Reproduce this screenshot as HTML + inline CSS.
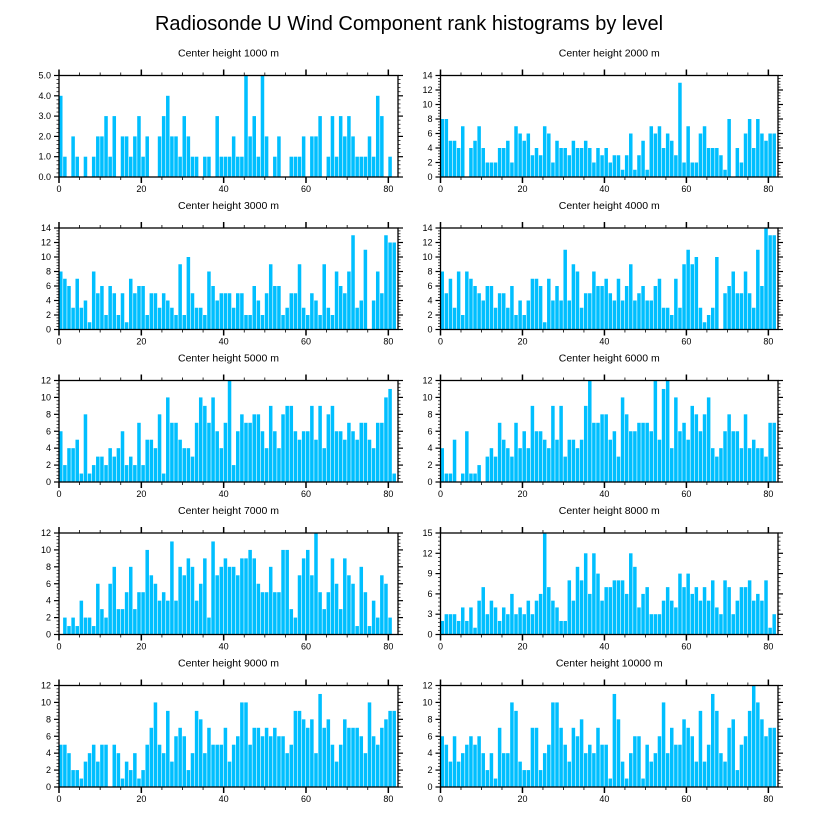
<!DOCTYPE html>
<html><head><meta charset="utf-8">
<style>
html,body{margin:0;padding:0;background:#fff;}
svg{display:block;font-family:"Liberation Sans",Arial,sans-serif;}
</style></head>
<body>
<svg id="chart" width="818" height="824" viewBox="0 0 818 824" xmlns="http://www.w3.org/2000/svg">
<text x="409" y="30" text-anchor="middle" font-size="20">Radiosonde U Wind Component rank histograms by level</text>
</svg>
<script>
const levels = ["1000","2000","3000","4000","5000","6000","7000","8000","9000","10000"];
const counts1000 = [4,1,0,2,1,0,1,0,1,2,2,3,1,3,0,2,2,1,2,3,1,2,0,0,2,3,4,2,2,1,3,2,1,1,0,1,1,0,3,1,1,1,2,1,1,5,2,3,1,5,2,0,1,2,0,0,1,1,1,2,0,2,2,3,0,1,3,1,3,2,3,2,1,1,1,2,1,4,3,0,1,0];
const counts2000 = [8,8,5,5,4,7,0,4,5,7,4,2,2,2,4,4,5,2,7,6,5,6,3,4,3,7,6,2,5,4,4,3,5,4,4,5,4,2,4,3,4,2,3,3,1,3,6,1,3,5,1,7,6,7,4,6,5,3,13,2,7,2,2,6,7,4,4,4,3,1,8,0,4,2,6,8,4,8,6,5,6,6];
const counts3000 = [8,7,6,3,7,3,4,1,8,5,6,2,6,5,2,5,1,7,5,6,6,2,5,5,3,5,4,3,2,9,2,10,5,3,3,2,8,6,4,5,5,5,3,5,5,2,2,6,4,2,5,9,6,6,2,3,5,5,9,3,2,5,4,2,9,3,2,8,6,5,8,13,3,4,11,0,4,8,5,13,12,12];
const counts4000 = [8,5,7,3,8,2,8,7,6,5,4,6,6,3,5,5,3,6,2,4,2,4,7,7,6,1,7,4,6,4,11,4,9,8,3,5,5,8,6,6,7,5,4,7,4,6,9,4,5,6,4,4,6,7,3,3,2,7,3,9,11,9,10,3,1,2,3,10,0,5,6,8,5,5,8,5,3,11,6,14,13,13];
const counts5000 = [6,2,4,4,5,1,8,1,2,3,3,2,4,3,4,6,2,3,2,7,2,5,5,4,8,1,10,7,7,5,4,4,3,7,10,9,7,10,6,4,7,12,2,6,8,7,7,8,8,6,4,9,6,4,8,9,9,6,5,6,6,9,5,9,4,8,9,6,6,5,7,6,5,7,7,5,4,7,7,10,11,1];
const counts6000 = [4,1,1,5,0,1,6,1,1,2,0,3,4,3,7,5,4,3,7,4,6,4,9,6,6,5,4,9,5,9,3,5,5,4,5,9,12,7,7,8,8,5,6,3,10,8,6,6,7,7,7,6,12,5,11,12,4,10,6,7,5,9,8,6,8,10,4,3,4,6,8,6,6,4,8,4,5,4,4,3,7,7];
const counts7000 = [0,2,1,2,1,4,2,2,1,6,3,2,6,8,3,3,5,8,3,5,5,10,7,6,4,5,4,11,4,8,7,9,8,4,6,9,2,11,7,8,9,8,8,7,9,9,10,9,6,5,5,8,5,5,10,10,3,2,7,9,10,7,12,5,3,5,9,6,3,9,7,6,1,8,5,1,4,2,7,6,2,0];
const counts8000 = [2,3,3,3,2,4,2,4,1,5,7,3,5,4,2,4,3,6,3,4,3,5,3,5,6,15,7,5,4,2,2,8,5,10,8,12,6,12,9,5,7,7,8,8,8,6,12,10,4,6,7,3,3,3,5,7,5,4,9,7,9,6,7,5,7,5,8,4,3,8,7,3,5,7,7,8,5,6,5,8,1,3];
const counts9000 = [5,5,4,2,2,1,3,4,5,3,5,5,0,5,4,1,3,2,4,1,2,5,7,10,5,4,9,3,6,7,6,2,4,9,8,4,7,5,5,5,7,3,5,6,10,10,5,7,7,6,7,6,7,6,6,4,5,9,9,8,7,8,4,11,7,8,5,3,5,8,7,7,7,6,4,10,6,5,7,8,9,9];
const counts10000 = [6,5,3,6,3,4,5,6,5,6,4,2,4,1,7,4,4,10,9,3,2,2,7,7,2,4,5,10,10,7,5,3,7,6,8,4,5,4,7,5,5,1,11,8,3,1,4,6,6,1,5,3,4,6,10,4,7,5,5,8,7,6,3,9,3,5,11,9,4,3,7,8,2,5,6,9,12,10,8,6,7,7];
const yMaxes = [5,14,14,14,12,12,12,15,12,12];
const yStepsMajor = [1,2,2,2,2,2,2,3,2,2];
const xTickLabels = [0,20,40,60,80];
const allCounts = [counts1000,counts2000,counts3000,counts4000,counts5000,counts6000,counts7000,counts8000,counts9000,counts10000];

const NS="http://www.w3.org/2000/svg";
const svg=document.getElementById('chart');
function mk(tag,attrs,parent){const e=document.createElementNS(NS,tag);for(const k in attrs)e.setAttribute(k,attrs[k]);(parent||svg).appendChild(e);return e;}
const XMAX=82.35;
const colsL=[59,440.5], colsW=[339,337.5];
const rowTops=[75.5,228,380.5,533,685.5], PH=101.5;

allCounts.forEach((data,p)=>{
  const col=p%2,row=Math.floor(p/2);
  const L=colsL[col],W=colsW[col],T=rowTops[row],B=T+PH;
  const ymax=yMaxes[p],step=yStepsMajor[p];
  const xs=v=>L+v/XMAX*W;
  const ys=v=>B-v/ymax*PH;
  const g=mk('g',{});
  
  
  const t=mk('text',{x:L+W/2,y:T-19,'text-anchor':'middle','font-size':'10.5'},g);
  
  
  t.textContent='Center height '+levels[p]+' m';
  data.forEach((v,i)=>{
    if(v<=0)return;
    const r=mk('rect',{x:xs(i),y:ys(v),width:xs(i+1)-xs(i)-0.6,height:B-ys(v),fill:'#00bfff'},g);
    
    
  });
  const fr=mk('rect',{x:L,y:T,width:W,height:PH,fill:'none',stroke:'#000','stroke-width':'1.3'},g);
  
  
  // x ticks
  for(let v=0;v<=XMAX;v+=5){
    const maj=v%20===0, len=maj?6:3, x=xs(v);
    mk('line',{x1:x,x2:x,y1:B,y2:B+len,stroke:'#000','stroke-width':maj?1.5:0.8},g);
    mk('line',{x1:x,x2:x,y1:T,y2:T-len,stroke:'#000','stroke-width':maj?1.5:0.8},g);
  }
  xTickLabels.forEach(v=>{
    const tl=mk('text',{x:xs(v),y:B+15,'text-anchor':'middle','font-size':'9'},g);
    
    
    tl.textContent=v;
  });
  // y ticks
  const minor=step/5;
  for(let k=0;k*minor<=ymax+1e-9;k++){
    const v=k*minor, maj=k%5===0, len=maj?5:2.5, y=ys(v);
    mk('line',{x1:L,x2:L-len,y1:y,y2:y,stroke:'#000','stroke-width':maj?1.2:0.7},g);
    mk('line',{x1:L+W,x2:L+W+len,y1:y,y2:y,stroke:'#000','stroke-width':maj?1.2:0.7},g);
  }
  for(let v=0;v<=ymax+1e-9;v+=step){
    const tl=mk('text',{x:L-8,y:ys(v)+3,'text-anchor':'end','font-size':'9'},g);
    
    
    tl.textContent=ymax===5?v.toFixed(1):v;
  }
});
</script>
</body></html>
